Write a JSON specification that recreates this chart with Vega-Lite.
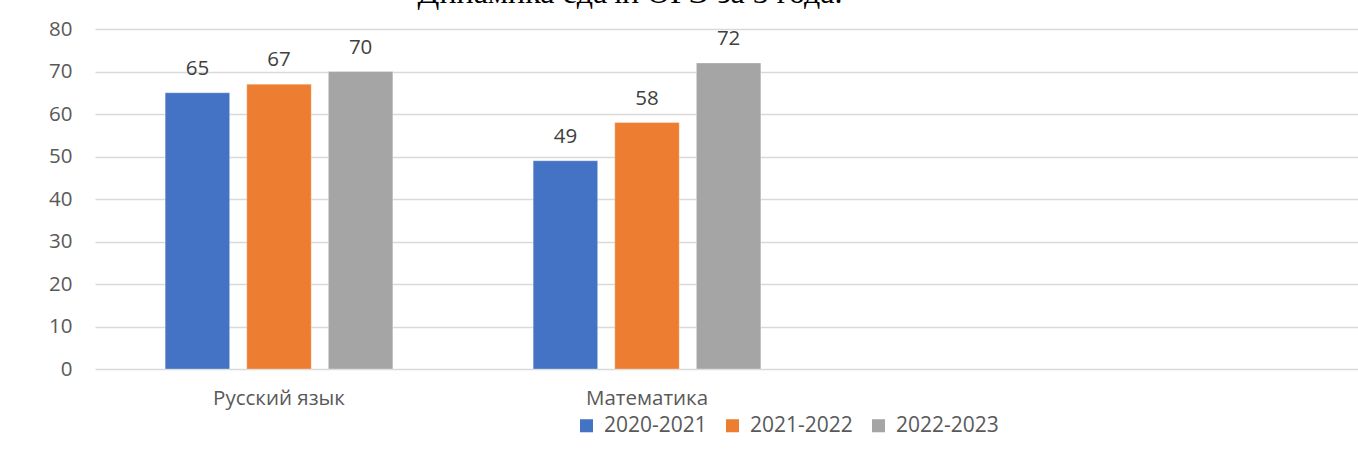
{
  "$schema": "https://vega.github.io/schema/vega-lite/v6.json",
  "autosize": {"type": "none"},
  "padding": {"left": 95, "top": 29, "right": 0, "bottom": 86},
  "width": 1263,
  "height": 340,
  "background": "white",
  "title": {
    "text": "Динамика сдачи ОГЭ за 3 года.",
    "font": "Liberation Serif",
    "fontSize": 32,
    "fontWeight": "normal",
    "color": "#000000",
    "anchor": "start",
    "dx": 369,
    "dy": 16,
    "baseline": "alphabetic",
    "offset": 0
  },
  "data": {
    "values": [
      {"subject": "Русский язык", "year": "2020-2021", "value": 65},
      {"subject": "Русский язык", "year": "2021-2022", "value": 67},
      {"subject": "Русский язык", "year": "2022-2023", "value": 70},
      {"subject": "Математика", "year": "2020-2021", "value": 49},
      {"subject": "Математика", "year": "2021-2022", "value": 58},
      {"subject": "Математика", "year": "2022-2023", "value": 72}
    ]
  },
  "encoding": {
    "x": {
      "field": "subject",
      "type": "nominal",
      "sort": ["Русский язык", "Математика"],
      "scale": {"paddingInner": 0, "paddingOuter": 0.716, "align": 0},
      "axis": {
        "title": null,
        "labelAngle": 0,
        "labelFont": "Open Sans",
        "labelFontSize": 20.5,
        "labelColor": "#595959",
        "labelPadding": 19,
        "ticks": false,
        "domain": false,
        "grid": false
      }
    },
    "xOffset": {
      "field": "year",
      "type": "nominal",
      "scale": {"paddingInner": 0.21, "paddingOuter": 0.86}
    },
    "y": {
      "field": "value",
      "type": "quantitative",
      "scale": {"domain": [0, 80]},
      "axis": {
        "title": null,
        "values": [0, 10, 20, 30, 40, 50, 60, 70, 80],
        "labelOverlap": false,
        "labelFont": "Open Sans",
        "labelFontSize": 20.5,
        "labelColor": "#595959",
        "labelPadding": 23,
        "ticks": false,
        "domain": false,
        "grid": true,
        "gridColor": "#d9d9d9",
        "gridWidth": 1.5
      }
    }
  },
  "layer": [
    {
      "mark": {"type": "bar", "stroke": "white", "strokeWidth": 0.5, "strokeOpacity": 0.6},
      "encoding": {
        "color": {
          "field": "year",
          "type": "nominal",
          "scale": {"domain": ["2020-2021", "2021-2022", "2022-2023"], "range": ["#4472c4", "#ed7d31", "#a5a5a5"]},
          "legend": {
            "title": null,
            "orient": "none",
            "direction": "horizontal",
            "legendX": 481,
            "legendY": 386,
            "symbolType": "square",
            "symbolSize": 170,
            "symbolStrokeWidth": 0,
            "labelFont": "Open Sans",
            "labelFontSize": 21,
            "labelColor": "#595959",
            "labelOffset": 7,
            "columnPadding": 15
          }
        }
      }
    },
    {
      "mark": {"type": "text", "baseline": "alphabetic", "dy": -18, "font": "Open Sans", "fontSize": 20.5, "color": "#404040"},
      "encoding": {
        "text": {"field": "value", "type": "quantitative"}
      }
    }
  ],
  "config": {
    "view": {"stroke": null}
  }
}
